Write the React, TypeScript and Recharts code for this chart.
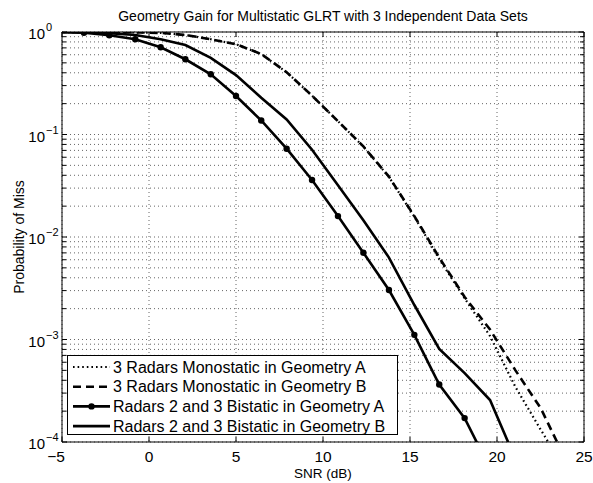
import React from 'react';
import { LineChart, Line, XAxis, YAxis, CartesianGrid, Legend, ReferenceLine } from 'recharts';

// ---- data ----
const snrDb = [-5.19, -3.74, -2.28, -0.79, 0.67, 2.09, 3.55, 5.0, 6.45, 7.91, 9.37, 10.86, 12.32, 13.79, 15.25, 16.68, 18.14, 19.6, 21.06, 22.51, 23.97];
const monoGeomA = [0.9995, 0.999, 0.998, 0.993, 0.98, 0.935, 0.85, 0.76, 0.61, 0.405, 0.239, 0.135, 0.0762, 0.0385, 0.0158, 0.0061, 0.00252, 0.00108, 0.000344, 0.000132, 0.000052];
const monoGeomB = [0.9995, 0.999, 0.998, 0.993, 0.98, 0.935, 0.85, 0.76, 0.61, 0.405, 0.239, 0.135, 0.0765, 0.0388, 0.016, 0.0063, 0.0026, 0.00125, 0.0005, 0.000214, 0.000066];
const biGeomA = [0.997, 0.984, 0.929, 0.849, 0.709, 0.542, 0.387, 0.2375, 0.137, 0.0727, 0.036, 0.016, 0.00703, 0.00304, 0.00111, 0.000364, 0.000171, 0.000055, null, null, null];
const biGeomB = [0.999, 0.995, 0.975, 0.935, 0.85, 0.747, 0.56, 0.38, 0.228, 0.14, 0.071, 0.032, 0.0146, 0.0063, 0.00217, 0.00081, 0.00047, 0.000257, 0.000068, null, null];

const xTicks = [-5, 0, 5, 10, 15, 20, 25];
const yTicks: number[] = [];
[-4, -3, -2, -1].forEach((e) => {
  for (let m = 1; m <= 9; m++) yTicks.push(m * Math.pow(10, e));
});
yTicks.push(1);

const seriesNames = [
  '3 Radars Monostatic in Geometry A',
  '3 Radars Monostatic in Geometry B',
  'Radars 2 and 3 Bistatic in Geometry A',
  'Radars 2 and 3 Bistatic in Geometry B',
];
const titleText = 'Geometry Gain for Multistatic GLRT with 3 Independent Data Sets';
const xLabel = 'SNR (dB)';
const yLabel = 'Probability of Miss';

const data = snrDb.map((s, i) => ({
  snr: s,
  monoA: monoGeomA[i],
  monoB: monoGeomB[i],
  biA: biGeomA[i],
  biB: biGeomB[i],
}));

// ---- layout ----
const W = 593;
const H = 483;
const PLOT_LEFT = 62;
const PLOT_TOP = 32;
const PLOT_RIGHT = 584;
const PLOT_BOTTOM = 442;
const FONT = '"Liberation Sans", Arial, Helvetica, sans-serif';

const DOTTED = '1.6 3';
const DASHED = '8 5';

const YTick = (props: any) => {
  const { x, y, payload } = props;
  const v = payload.value;
  const lg = Math.log10(v);
  const e = Math.round(lg);
  const major = Math.abs(lg - e) < 1e-6;
  const len = major ? 5 : 4;
  const expStr = e < 0 ? '\u2212' + Math.abs(e) : String(e);
  return (
    <g>
      <line x1={x} x2={x + len} y1={y} y2={y} stroke="#000" strokeWidth={1} />
      <line x1={PLOT_RIGHT} x2={PLOT_RIGHT - len} y1={y} y2={y} stroke="#000" strokeWidth={1} />
      {major && (
        <g fontFamily={FONT} fill="#000">
          <text x={x - 17} y={y + 7} textAnchor="end" fontSize={15}>10</text>
          <text x={x - 16} y={y - 1} textAnchor="start" fontSize={11}>{expStr}</text>
        </g>
      )}
    </g>
  );
};

const XTick = (props: any) => {
  const { x, y, payload } = props;
  const v = payload.value;
  const txt = v < 0 ? '\u2212' + Math.abs(v) : String(v);
  return (
    <g>
      <line x1={x} x2={x} y1={y} y2={y - 5} stroke="#000" strokeWidth={1} />
      <line x1={x} x2={x} y1={PLOT_TOP} y2={PLOT_TOP + 5} stroke="#000" strokeWidth={1} />
      <text x={x} y={y + 19.5} dx={v < 0 ? -6 : 0} textAnchor="middle" fontSize={15.5} fontFamily={FONT} fill="#000">{txt}</text>
    </g>
  );
};

const markerDot = (p: any) => {
  const { cx, cy, payload, index } = p;
  if (payload.snr < -5 || payload.biA == null || payload.biA < 1e-4 || cx == null || cy == null) {
    return <g key={'d' + index} />;
  }
  return <circle key={'d' + index} cx={cx} cy={cy} r={3.2} fill="#000" stroke="none" />;
};

const legendRows = [
  { name: seriesNames[0], dash: DOTTED, w: 2.2, marker: false },
  { name: seriesNames[1], dash: DASHED, w: 2.6, marker: false },
  { name: seriesNames[2], dash: undefined, w: 2.6, marker: true },
  { name: seriesNames[3], dash: undefined, w: 2.6, marker: false },
];

const LegendBox = () => (
  <svg width={331} height={80} style={{ display: 'block' }}>
    <rect x={0.5} y={0.5} width={330} height={79} fill="#fff" stroke="#000" strokeWidth={1} />
    {legendRows.map((r, i) => {
      const cy = 12 + i * 19.7;
      return (
        <g key={i}>
          <line x1={6} x2={43} y1={cy} y2={cy} stroke="#000" strokeWidth={r.w} strokeDasharray={r.dash} />
          {r.marker && <circle cx={24.5} cy={cy} r={3.2} fill="#000" />}
          <text x={46} y={cy + 5.7} fontSize={16} fontFamily={FONT} fill="#000">{r.name}</text>
        </g>
      );
    })}
  </svg>
);

export default function App() {
  return (
    <div style={{ position: 'absolute', left: 0, top: 0, width: W, height: H, background: '#fff', fontFamily: FONT }}>
      <LineChart width={W} height={H} data={data} margin={{ top: PLOT_TOP, right: W - PLOT_RIGHT, bottom: 0, left: 0 }}>
        <CartesianGrid stroke="#666" strokeDasharray="1 3" strokeWidth={1} />
        <XAxis
          dataKey="snr"
          type="number"
          domain={[-5, 25]}
          ticks={xTicks}
          allowDataOverflow
          height={H - PLOT_BOTTOM}
          tickSize={0}
          tickMargin={0}
          tickLine={false}
          tick={<XTick />}
          axisLine={{ stroke: '#000', strokeWidth: 1 }}
          interval={0}
        />
        <YAxis
          type="number"
          scale="log"
          domain={[1e-4, 1]}
          ticks={yTicks}
          allowDataOverflow
          width={PLOT_LEFT}
          tickSize={0}
          tickMargin={0}
          tickLine={false}
          tick={<YTick />}
          axisLine={{ stroke: '#000', strokeWidth: 1 }}
          interval={0}
        />
        <ReferenceLine x={25} stroke="#000" strokeWidth={1} />
        <ReferenceLine y={1} stroke="#000" strokeWidth={1} />
        <Line dataKey="monoA" name={seriesNames[0]} stroke="#000" strokeWidth={2.2} strokeDasharray={DOTTED} dot={false} isAnimationActive={false} type="linear" />
        <Line dataKey="monoB" name={seriesNames[1]} stroke="#000" strokeWidth={2.6} strokeDasharray={DASHED} dot={false} isAnimationActive={false} type="linear" />
        <Line dataKey="biA" name={seriesNames[2]} stroke="#000" strokeWidth={2.6} dot={markerDot} isAnimationActive={false} type="linear" />
        <Line dataKey="biB" name={seriesNames[3]} stroke="#000" strokeWidth={2.6} dot={false} isAnimationActive={false} type="linear" />
        <Legend
          layout="vertical"
          align="center"
          verticalAlign="middle"
          wrapperStyle={{ left: 67, top: 355, width: 331, height: 80 }}
          content={() => <LegendBox />}
        />
      </LineChart>
      <svg width={W} height={H} style={{ position: 'absolute', left: 0, top: 0, pointerEvents: 'none' }}>
        <text x={(PLOT_LEFT + PLOT_RIGHT) / 2} y={20.5} textAnchor="middle" fontSize={14} fontFamily={FONT} fill="#000">{titleText}</text>
        <text x={(PLOT_LEFT + PLOT_RIGHT) / 2} y={477.5} textAnchor="middle" fontSize={13.5} fontFamily={FONT} fill="#000">{xLabel}</text>
        <text x={24} y={(PLOT_TOP + PLOT_BOTTOM) / 2} transform={`rotate(-90 24 ${(PLOT_TOP + PLOT_BOTTOM) / 2})`} textAnchor="middle" fontSize={14} fontFamily={FONT} fill="#000">{yLabel}</text>
      </svg>
    </div>
  );
}
